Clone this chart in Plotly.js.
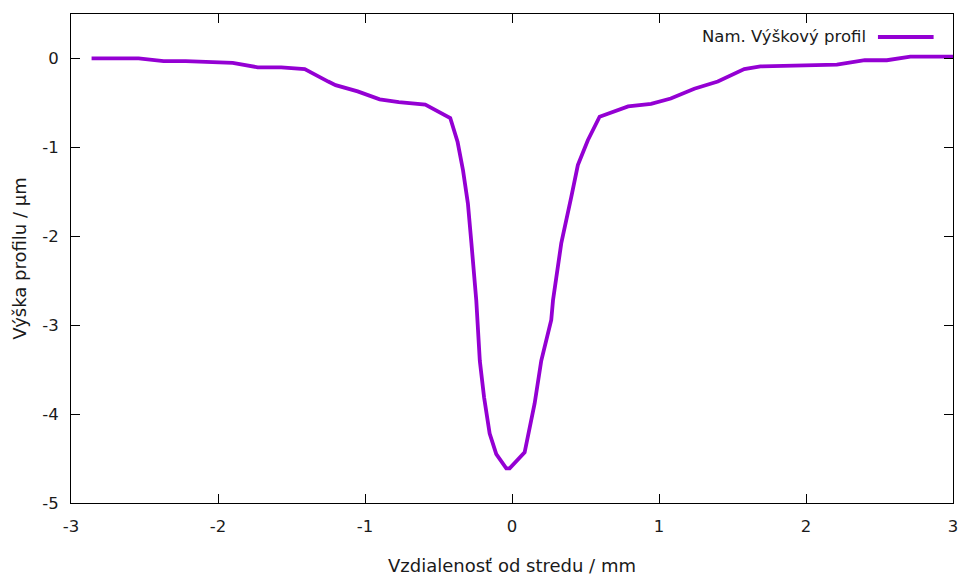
<!DOCTYPE html>
<html>
<head>
<meta charset="utf-8">
<script src="https://cdn.plot.ly/plotly-3.0.1.min.js"></script>
<style>html,body{margin:0;padding:0;background:#fff;}#chart{width:967px;height:577px;}</style>
</head>
<body>
<div id="chart"></div>
<script>
const distance = [-2.86, -2.54, -2.37, -2.22, -1.90, -1.73, -1.57, -1.41, -1.25, -1.20, -1.05, -0.90, -0.77, -0.59, -0.42, -0.37, -0.333, -0.30, -0.276, -0.243, -0.219, -0.19, -0.152, -0.107, -0.039, -0.016, 0.086, 0.12, 0.154, 0.199, 0.267, 0.279, 0.335, 0.403, 0.448, 0.516, 0.596, 0.79, 0.946, 1.08, 1.24, 1.40, 1.58, 1.69, 2.21, 2.40, 2.55, 2.71, 3.0];
const height = [0.00, 0.00, -0.03, -0.03, -0.05, -0.10, -0.10, -0.12, -0.26, -0.30, -0.37, -0.46, -0.49, -0.52, -0.67, -0.94, -1.26, -1.63, -2.08, -2.72, -3.40, -3.81, -4.22, -4.45, -4.61, -4.61, -4.43, -4.15, -3.88, -3.40, -2.94, -2.72, -2.08, -1.56, -1.20, -0.92, -0.655, -0.54, -0.51, -0.45, -0.34, -0.26, -0.12, -0.09, -0.07, -0.02, -0.02, 0.02, 0.02];
const seriesName = "Nam. Výškový profil";
const xTitle = "Vzdialenosť od stredu / mm";
const yTitle = "Výška profilu / µm";
const xTicks = [-3, -2, -1, 0, 1, 2, 3];
const yTicks = [-5, -4, -3, -2, -1, 0];

const fam = "DejaVu Sans, sans-serif";
const fnt = {family: fam, size: 16.5, color: "#1a1a1a"};
const titleFnt = {family: fam, size: 18, color: "#1a1a1a"};
const lineColor = "#9400D3";

const trace = {
  x: distance, y: height, type: "scatter", mode: "lines",
  name: seriesName, showlegend: false,
  line: {color: lineColor, width: 3.8}
};

const axisCommon = {
  showgrid: false, zeroline: false, showline: true, linecolor: "#000", linewidth: 1,
  mirror: "allticks", ticks: "inside", ticklen: 9, tickcolor: "#000", tickwidth: 1,
  tickfont: fnt
};

const layout = {
  width: 967, height: 577,
  margin: {l: 71, r: 14, t: 14, b: 74},
  paper_bgcolor: "#fff", plot_bgcolor: "#fff",
  font: fnt,
  xaxis: Object.assign({}, axisCommon, {
    range: [-3, 3], tickvals: xTicks, ticktext: xTicks.map(String),
    ticklabelstandoff: 8,
    title: {text: xTitle, font: titleFnt, standoff: 24}
  }),
  yaxis: Object.assign({}, axisCommon, {
    range: [-5, 0.5], tickvals: yTicks, ticktext: yTicks.map(String),
    ticklabelstandoff: 8,
    title: {text: yTitle, font: titleFnt, standoff: 10}
  }),
  annotations: [{
    xref: "paper", yref: "paper", x: 0.9036, y: 0.953, xanchor: "right", yanchor: "middle",
    text: seriesName, showarrow: false, font: fnt
  }],
  shapes: [{
    type: "line", xref: "paper", yref: "paper", x0: 0.9149, x1: 0.978, y0: 0.953, y1: 0.953,
    line: {color: lineColor, width: 3.8}
  }]
};

Plotly.newPlot("chart", [trace], layout, {displayModeBar: false, staticPlot: true});
</script>
</body>
</html>
